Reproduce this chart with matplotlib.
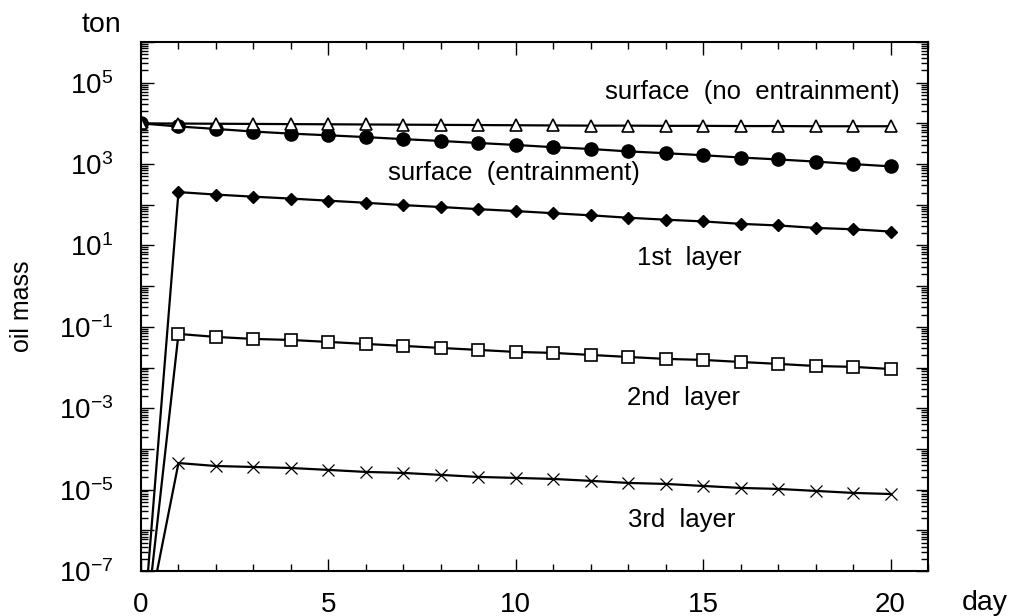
import math
import matplotlib
matplotlib.use("Agg")
import matplotlib.pyplot as plt
from matplotlib.ticker import FixedLocator, LogLocator, FuncFormatter, MultipleLocator

plt.rcParams['font.family'] = ['Liberation Sans', 'DejaVu Sans']
plt.rcParams['mathtext.fontset'] = 'custom'
plt.rcParams['mathtext.rm'] = 'Liberation Sans'
plt.rcParams['mathtext.it'] = 'Liberation Sans'

# days after the spill
days = list(range(21))

# oil mass in ton
surface_no_entrain = [1.0e4, 9.9e3, 9.8e3, 9.7e3, 9.6e3, 9.5e3, 9.4e3, 9.3e3, 9.2e3, 9.1e3, 9.0e3,
                      8.9e3, 8.8e3, 8.8e3, 8.7e3, 8.7e3, 8.6e3, 8.6e3, 8.5e3, 8.5e3, 8.5e3]
surface_entrain = [1.0e4, 8400, 7300, 6300, 5600, 5100, 4600, 4100, 3700, 3300, 2950,
                   2600, 2350, 2050, 1850, 1650, 1450, 1300, 1150, 1000, 880]
layer1 = [7e-10, 205, 178, 158, 142, 126, 112, 98, 88, 78, 70,
          62, 55, 48, 43, 39, 34, 31, 27, 25, 22]
layer2 = [4e-10, 0.067, 0.0565, 0.0505, 0.0476, 0.0426, 0.038, 0.034, 0.0303, 0.0271, 0.0242,
          0.0229, 0.0204, 0.0182, 0.0163, 0.0154, 0.0137, 0.0123, 0.0109, 0.0104, 0.0092]
layer3 = [1e-9, 4.5e-5, 3.8e-5, 3.6e-5, 3.4e-5, 3.05e-5, 2.72e-5, 2.57e-5, 2.3e-5, 2.05e-5, 1.94e-5,
          1.83e-5, 1.64e-5, 1.46e-5, 1.38e-5, 1.23e-5, 1.1e-5, 1.04e-5, 9.3e-6, 8.3e-6, 7.8e-6]

fig = plt.figure(figsize=(10.13, 6.16), dpi=100)
ax = fig.add_axes([141/1013, 45/616, 787/1013, 529/616])

lw = 1.6
ax.plot(days, surface_entrain, color='black', lw=lw, marker='o', ms=9.5, mfc='black', mec='black')
ax.plot(days, surface_no_entrain, color='black', lw=lw, marker='^', ms=9, mfc='white', mec='black', mew=1.2)
ax.plot(days, layer1, color='black', lw=lw, marker='D', ms=6.5, mfc='black', mec='black')
ax.plot(days, layer2, color='black', lw=lw, marker='s', ms=8.5, mfc='white', mec='black', mew=1.2)
ax.plot(days, layer3, color='black', lw=lw, marker='x', ms=9, mec='black', mew=0.9)

ax.set_yscale('log')
ax.set_xlim(0, 21)
ax.set_ylim(1e-7, 1e6)

ax.yaxis.set_major_locator(FixedLocator([10.0**e for e in range(-7, 7)]))
ax.yaxis.set_minor_locator(LogLocator(base=10, subs=range(2, 10), numticks=50))


def ylab(v, pos):
    e = int(round(math.log10(v)))
    if e % 2 == 0 or e > 5:
        return ''
    return r'$\mathregular{10^{%d}}$' % e


ax.yaxis.set_major_formatter(FuncFormatter(ylab))
ax.xaxis.set_major_locator(MultipleLocator(5))
ax.xaxis.set_minor_locator(MultipleLocator(1))

ax.tick_params(which='both', direction='in', top=True, right=True, width=1.0, labelsize=20)
ax.tick_params(which='major', length=9)
ax.tick_params(which='minor', length=5)
ax.tick_params(axis='y', pad=20)
ax.tick_params(axis='x', pad=15)
for s in ax.spines.values():
    s.set_linewidth(1.5)

fs = 18.5
ax.text(0.9645, 0.9055, 'surface  (no  entrainment)', transform=ax.transAxes, ha='right', va='center', fontsize=fs)
ax.text(0.314, 0.752, 'surface  (entrainment)', transform=ax.transAxes, ha='left', va='center', fontsize=fs)
ax.text(0.630, 0.592, '1st  layer', transform=ax.transAxes, ha='left', va='center', fontsize=fs)
ax.text(0.6175, 0.327, '2nd  layer', transform=ax.transAxes, ha='left', va='center', fontsize=fs)
ax.text(0.619, 0.0964, '3rd  layer', transform=ax.transAxes, ha='left', va='center', fontsize=fs)

fig.text(101/1013, 1 - 25/616, 'ton', ha='center', va='center', fontsize=20.5)
fig.text(985/1013, 1 - 603/616, 'day', ha='center', va='center', fontsize=20.5)
fig.text(22/1013, 1 - 306/616, 'oil mass', ha='center', va='center', rotation=90, fontsize=18)

fig.savefig('out.png', dpi=100)
